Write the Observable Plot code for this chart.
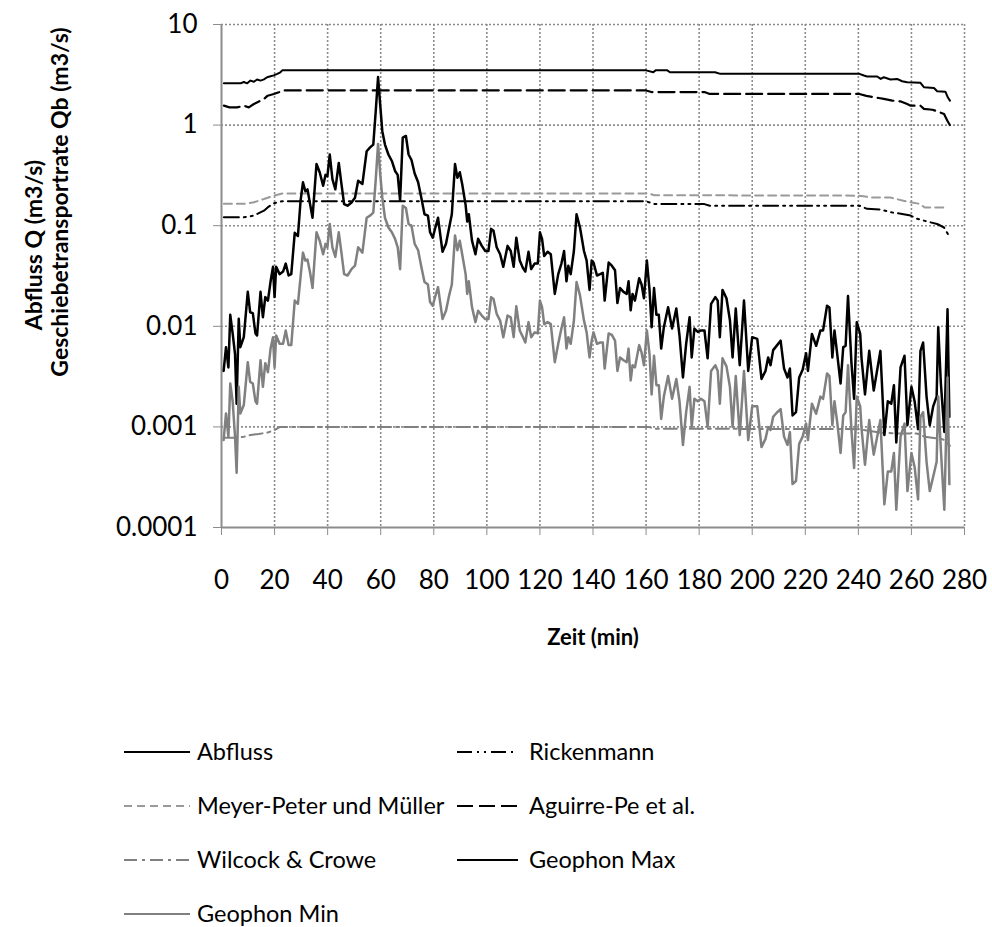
<!DOCTYPE html>
<html><head><meta charset="utf-8">
<script src="https://cdn.jsdelivr.net/npm/d3@7"></script>
<script src="https://cdn.jsdelivr.net/npm/@observablehq/plot@0.6"></script>
<style>
body{margin:0;background:#fff;font-family:Lato, sans-serif;}
#chart svg{display:block;}
</style></head><body><div id="chart"></div>
<script>
// ---------- axis ticks ----------
const xTicks = [0,20,40,60,80,100,120,140,160,180,200,220,240,260,280];
const yTicks = [0.0001,0.001,0.01,0.1,1,10];
const yTickLabels = ["0.0001","0.001","0.01","0.1","1","10"];

// ---------- Abfluss ----------
const abflussTime = [0.9,7.2,8.4,9.7,10.9,12.2,13.4,14.7,16,17.2,18.5,19.7,21,22.2,22.9,160,162.7,163.6,168,169,186,188,240.4,242.1,243.3,247.1,248.4,249.6,252.1,254.6,256.5,258.4,263.4,264.7,268.5,269.7,272.8,273.7,274.5];
const abflussQ    = [2.6,2.6,2.68,2.6,2.77,2.7,2.84,2.77,2.85,2.99,3.06,3.12,3.23,3.35,3.5,3.5,3.35,3.5,3.5,3.35,3.35,3.23,3.23,3.11,3.04,3.04,2.88,2.99,2.84,2.88,2.73,2.67,2.63,2.38,2.34,2.17,2.15,1.89,1.75];

// ---------- Rickenmann ----------
const rickTime = [0.9,8.4,12.2,16,17.4,19.7,22.9,160,163,182,184,240.4,243.3,248.4,252.1,256.5,259.7,262.2,266,269.7,272.3,274.5];
const rickQb   = [0.121,0.121,0.126,0.141,0.152,0.167,0.175,0.175,0.164,0.164,0.158,0.158,0.147,0.145,0.136,0.131,0.126,0.117,0.11,0.104,0.096,0.0766];

// ---------- Meyer-Peter und Müller ----------
const mpmTime = [0.9,8.4,12.2,16,19.7,22.9,161,163,240,245,252,254,257,259.7,263,265,272.8];
const mpmQb   = [0.165,0.165,0.171,0.184,0.199,0.209,0.209,0.201,0.199,0.191,0.191,0.185,0.177,0.171,0.165,0.152,0.152];

// ---------- Aguirre-Pe et al. ----------
const aguirreTime = [0.9,3,5.9,8.4,10.3,12.2,16,17.4,19.7,21.6,22.9,160,162,182,184,240.4,243,244.6,247.7,249.6,252.8,256,258.4,259.7,263.4,264.7,267.9,269.7,272.3,273.5,274.5];
const aguirreQb   = [1.56,1.5,1.5,1.56,1.5,1.62,1.82,1.96,2.04,2.12,2.21,2.21,2.13,2.13,2.04,2.04,1.95,1.92,1.86,1.82,1.75,1.72,1.62,1.56,1.56,1.45,1.42,1.37,1.29,1.11,1.0];

// ---------- Wilcock & Crowe ----------
const wcTime = [0.9,6,8.5,11,14,17.5,20,22,161,163,240,248,255,262,265,272,274.5];
const wcQb   = [0.00078,0.00078,0.0008,0.00083,0.00085,0.00088,0.00093,0.001,0.001,0.00096,0.00095,0.00088,0.00086,0.00086,0.0008,0.00075,0.00065];

// ---------- Geophon (Max / Min) ----------
const geophonTime = [
  0.8,1.7,2.6,3.3,4.2,5.1,5.7,6.5,7.1,8.4,
  9.9,10.8,11.8,12.8,13.4,14.7,15.6,16.5,17.5,18.5,
  19.4,20.0,20.6,21.9,23.2,24.2,25.3,26.3,27.6,28.8,
  29.8,30.7,31.6,32.4,33.4,34.3,35.8,37.0,38.3,39.2,
  39.9,40.8,41.8,42.9,44.2,45.2,46.2,47.5,49.0,50.3,
  51.5,53.1,54.7,56.0,57.2,58.1,59.0,59.8,60.6,61.6,
  62.9,64.2,65.4,66.4,67.3,68.3,69.5,70.5,
  71.6,72.8,74.1,75.3,76.5,77.8,78.6,79.6,80.6,81.6,
  83.3,84.6,85.8,86.8,88.0,88.9,89.8,90.7,92.0,92.6,
  93.2,94.4,95.7,96.7,98.1,99.4,100.6,101.6,102.5,103.7,
  105.0,106.2,107.8,109.0,110.1,111.1,112.4,113.6,114.5,115.7,
  116.7,118.0,119.2,120.0,120.8,121.6,122.9,124.1,125.6,126.9,
  128.1,129.1,130.0,130.7,131.6,132.8,133.8,135.1,136.6,137.6,
  138.7,139.5,
  140.2,141.5,142.7,143.7,144.4,145.9,147.1,148.3,149.2,150.2,
  151.5,152.7,153.4,154.2,154.9,155.8,157.4,158.3,159.2,160.3,
  161.3,162.1,163.0,163.9,164.8,165.7,166.7,168.3,169.8,171.4,
  172.6,173.9,175.1,176.4,177.2,178.2,179.5,180.7,182.0,183.2,
  184.5,186.1,187.0,187.8,188.8,190.3,191.6,192.6,193.8,195.3,
  196.9,198.5,200.0,201.9,203.5,205.0,206.0,206.9,207.9,209.4,
  210.7,
  212.0,213.3,214.2,215.2,216.5,217.7,219.0,220.3,221.0,222.5,
  224.1,225.7,226.7,228.2,229.1,230.2,231.0,232.1,233.3,234.3,
  235.2,236.1,237.4,238.4,239.4,240.7,241.2,242.5,244.1,245.8,
  248.3,249.8,251.1,252.4,253.4,254.3,255.9,257.4,258.5,260.0,
  261.2,262.5,263.4,264.4,265.7,266.9,268.2,269.5,270.1,271.1,
  272.4,273.6,274.3
];
const geophonMax = [
  0.0036,0.0062,0.0039,0.013,0.0085,0.0053,0.0017,0.0119,0.0062,0.0078,
  0.022,0.0138,0.0135,0.0085,0.0081,0.022,0.0123,0.0195,0.018,0.028,
  0.039,0.0195,0.039,0.033,0.035,0.042,0.032,0.033,0.085,0.079,
  0.177,0.27,0.22,0.23,0.163,0.12,0.41,0.34,0.25,0.32,
  0.31,0.51,0.29,0.23,0.42,0.26,0.164,0.158,0.17,0.19,
  0.28,0.26,0.55,0.6,0.64,1.35,3.0,1.6,0.87,0.64,
  0.51,0.44,0.35,0.32,0.177,0.75,0.78,0.51,
  0.45,0.33,0.27,0.19,0.13,0.126,0.086,0.076,0.096,0.12,
  0.055,0.066,0.096,0.13,0.41,0.30,0.34,0.26,0.16,0.11,
  0.13,0.071,0.052,0.074,0.063,0.056,0.056,0.093,0.089,0.061,
  0.052,0.039,0.063,0.056,0.039,0.076,0.045,0.038,0.035,0.055,
  0.037,0.042,0.042,0.086,0.074,0.05,0.055,0.052,0.021,0.033,
  0.042,0.056,0.028,0.04,0.033,0.056,0.13,0.096,0.056,0.045,
  0.023,0.045,
  0.043,0.032,0.033,0.034,0.018,0.043,0.04,0.036,0.017,0.024,
  0.022,0.021,0.028,0.0144,0.021,0.018,0.03,0.026,0.019,0.045,
  0.023,0.0098,0.024,0.013,0.013,0.006,0.0098,0.0155,0.0095,0.015,
  0.0081,0.0031,0.0067,0.0123,0.0049,0.0095,0.0088,0.0091,0.0091,0.0048,
  0.0167,0.0195,0.018,0.0078,0.023,0.019,0.0115,0.0049,0.015,0.0041,
  0.018,0.0036,0.0078,0.0075,0.003,0.0036,0.0049,0.0041,0.0058,0.0065,
  0.0072,
  0.0038,0.0031,0.0038,0.0013,0.0014,0.0031,0.0037,0.0054,0.0036,0.0084,
  0.0064,0.0091,0.0091,0.016,0.0154,0.0049,0.0091,0.0051,0.0027,0.0062,
  0.0064,0.02,0.0043,0.0019,0.011,0.0084,0.0048,0.0021,0.0057,0.0023,
  0.0057,0.00083,0.0018,0.0017,0.0026,0.0007,0.0039,0.0051,0.00104,0.0025,
  0.0018,0.00095,0.0057,0.0069,0.002,0.00104,0.0016,0.002,0.0098,0.0027,
  0.00089,0.0148,0.00126
];
const geophonMin = [
  0.00074,0.00136,0.0008,0.0027,0.0018,0.0008,0.00035,0.0025,0.00136,0.00165,
  0.0044,0.0028,0.0027,0.0018,0.0017,0.0046,0.0025,0.0043,0.0035,0.006,
  0.0078,0.0039,0.0081,0.0067,0.0067,0.0091,0.0065,0.0065,0.018,0.0167,
  0.031,0.054,0.045,0.046,0.034,0.024,0.086,0.071,0.052,0.066,
  0.061,0.104,0.061,0.049,0.086,0.054,0.033,0.032,0.037,0.04,
  0.061,0.054,0.12,0.126,0.135,0.28,0.65,0.33,0.19,0.12,
  0.096,0.086,0.074,0.061,0.037,0.158,0.15,0.104,
  0.1,0.066,0.057,0.039,0.0275,0.026,0.0174,0.016,0.02,0.0245,
  0.0118,0.0143,0.0203,0.026,0.08,0.057,0.071,0.052,0.033,0.021,
  0.028,0.0155,0.011,0.0143,0.0128,0.0118,0.0118,0.0195,0.0187,0.0133,
  0.0114,0.0078,0.0128,0.0123,0.0078,0.0158,0.0091,0.0078,0.0069,0.011,
  0.0078,0.0087,0.0085,0.018,0.0155,0.0105,0.011,0.0105,0.0044,0.0067,
  0.0095,0.0123,0.006,0.0078,0.0067,0.0114,0.0275,0.0203,0.0114,0.0087,
  0.0049,0.0072,
  0.0087,0.0067,0.0069,0.0069,0.0038,0.0085,0.0082,0.0072,0.0036,0.0049,
  0.0046,0.0044,0.006,0.0029,0.0041,0.0039,0.0065,0.0055,0.0041,0.0091,
  0.0053,0.0021,0.0051,0.0026,0.0026,0.0012,0.002,0.0032,0.0019,0.003,
  0.0018,0.00066,0.0014,0.0025,0.001,0.0019,0.0018,0.0019,0.0018,0.001,
  0.0036,0.0041,0.0036,0.0017,0.0048,0.004,0.0025,0.001,0.0032,0.00083,
  0.0036,0.00074,0.0016,0.0016,0.00063,0.00076,0.001,0.00093,0.00126,0.0014,
  0.0015,
  0.0008,0.00066,0.00089,0.00027,0.00029,0.00068,0.0008,0.00108,0.00074,0.0017,
  0.00135,0.002,0.0019,0.0034,0.0032,0.00104,0.0018,0.00108,0.00055,0.0013,
  0.0014,0.0041,0.00093,0.00039,0.002,0.0016,0.00096,0.00042,0.00117,0.00053,
  0.00117,0.00017,0.00036,0.00036,0.00055,0.00015,0.0008,0.00108,0.00023,0.00055,
  0.0004,0.00019,0.00126,0.0014,0.00045,0.00023,0.00032,0.00045,0.002,0.00059,
  0.00015,0.0031,0.00027
];

// ---------- series styles ----------
const series = [
  {name:"Abfluss", t:abflussTime, v:abflussQ, stroke:"#000", width:2, dash:null},
  {name:"Rickenmann", t:rickTime, v:rickQb, stroke:"#000", width:2, dash:"15,5,2,5,2,5"},
  {name:"Meyer-Peter und Müller", t:mpmTime, v:mpmQb, stroke:"#9a9a9a", width:2, dash:"8,5"},
  {name:"Aguirre-Pe et al.", t:aguirreTime, v:aguirreQb, stroke:"#000", width:2.2, dash:"16,6"},
  {name:"Wilcock & Crowe", t:wcTime, v:wcQb, stroke:"#808080", width:2, dash:"13,5,3,5"},
  {name:"Geophon Max", t:geophonTime, v:geophonMax, stroke:"#000", width:2.5, dash:null},
  {name:"Geophon Min", t:geophonTime, v:geophonMin, stroke:"#808080", width:2.5, dash:null}
];
const rows = s => s.t.map((t,i)=>({t, v:s.v[i]}));

const gridStyle = {stroke:"#8c8c8c", strokeOpacity:1, strokeWidth:1.6, strokeDasharray:"2,2"};
const axisGray = "#8c8c8c";
const tickFont = 26;

const plot = Plot.plot({
  width: 992, height: 660,
  marginTop: 24, marginBottom: 133, marginLeft: 221, marginRight: 28,
  style: {fontFamily:"Lato, sans-serif", fontSize:"22px", background:"white", color:"black", overflow:"visible"},
  x: {domain:[0,280]},
  y: {type:"log", domain:[0.0001,10]},
  marks: [
    Plot.gridX({ticks: xTicks.slice(1), ...gridStyle}),
    Plot.gridY({ticks: yTicks.slice(1), ...gridStyle}),
    Plot.axisX({ticks: xTicks, tickSize:8, tickPadding:35, stroke:axisGray, fill:"black", fontSize:tickFont, label:null, tickFormat:d=>String(d)}),
    Plot.axisY({ticks: yTicks, tickSize:8, tickPadding:16, stroke:axisGray, fill:"black", fontSize:tickFont, label:null, tickFormat:d=>yTickLabels[yTicks.indexOf(d)]}),
    Plot.ruleX([0], {stroke:axisGray, strokeWidth:2}),
    Plot.ruleY([0.0001], {stroke:axisGray, strokeWidth:2}),
    ...series.map(s => Plot.line(rows(s), {x:"t", y:"v", stroke:s.stroke, strokeWidth:s.width, strokeDasharray:s.dash, strokeLinejoin:"round"})),
    Plot.text(["Zeit (min)"], {text:d=>d, frameAnchor:"bottom", lineAnchor:"middle", textAnchor:"middle", dy:110, fontWeight:"bold", fontSize:22, fill:"black"}),
    Plot.text(["Abfluss Q (m3/s)"], {text:d=>d, frameAnchor:"left", textAnchor:"middle", lineAnchor:"middle", rotate:-90, dx:-187, dy:-31, fontWeight:"bold", fontSize:23, fill:"black"}),
    Plot.text(["Geschiebetransportrate Qb (m3/s)"], {text:d=>d, frameAnchor:"left", textAnchor:"middle", lineAnchor:"middle", rotate:-90, dx:-161, dy:-74, fontWeight:"bold", fontSize:23, fill:"black"})
  ]
});
document.getElementById("chart").appendChild(plot);

// ---------- legend (below the plot) ----------
const legendOrder = ["Abfluss","Rickenmann","Meyer-Peter und Müller","Aguirre-Pe et al.","Wilcock & Crowe","Geophon Max","Geophon Min"];
const legendCols = [{x1:124, x2:190, tx:197}, {x1:457, x2:518, tx:529}];
const leg = d3.create("svg").attr("width",992).attr("height",267)
  .style("font-family","Lato, sans-serif").style("font-size","23.5px");
legendOrder.forEach((name,i)=>{
  const s = series.find(d=>d.name===name);
  const c = legendCols[i%2], y = 92 + Math.floor(i/2)*54;
  leg.append("line").attr("x1",c.x1).attr("x2",c.x2).attr("y1",y).attr("y2",y)
    .attr("stroke",s.stroke).attr("stroke-width",2).attr("stroke-dasharray",s.dash);
  leg.append("text").attr("x",c.tx).attr("y",y).attr("dy","0.35em").attr("fill","#000").text(name);
});
document.getElementById("chart").appendChild(leg.node());
</script>
</body></html>
